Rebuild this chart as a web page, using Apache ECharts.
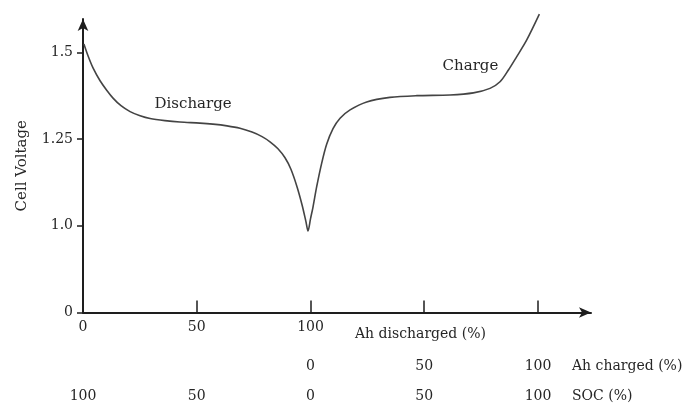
<!DOCTYPE html>
<html>
<head>
<meta charset="utf-8">
<script src="https://cdn.jsdelivr.net/npm/echarts@6/dist/echarts.min.js"></script>
<style>
html,body{margin:0;padding:0;background:#fff;}
#c{width:691px;height:406px;}
</style>
</head>
<body>
<div id="c"></div>
<script>
// Ah discharged (%) positions (0-100 discharge, 100-200 charge)
var ahPos = [0.4, 2.2, 4.4, 7.5, 10.5, 13.2, 16.7, 20.7, 25.1, 29.5, 36, 42.6, 51.4, 57.1, 63.3, 69, 74.3, 78.7, 82.2, 85.7, 88.8, 91.4, 94.1, 96.3, 98, 98.9,
             100, 101.1, 102.7, 104.9, 107.1, 109.9, 113, 117.4, 124.7, 134.9, 146.7, 161.3, 171.6, 178.9, 183.3, 187, 190.6, 195, 200.6];
var cellVoltage = [1.524, 1.490, 1.455, 1.418, 1.390, 1.368, 1.346, 1.329, 1.317, 1.309, 1.303, 1.299, 1.296, 1.293, 1.288, 1.281, 1.270, 1.257, 1.242, 1.222, 1.196, 1.163, 1.112, 1.060, 1.012, 0.985,
                   1.020, 1.054, 1.112, 1.180, 1.235, 1.280, 1.310, 1.334, 1.357, 1.370, 1.375, 1.377, 1.383, 1.396, 1.415, 1.449, 1.487, 1.535, 1.610];
var yTicks = [0.75, 1.0, 1.25, 1.5];
var yTickLabels = ['0', '1.0', '1.25', '1.5'];
var xTicks = [50, 100, 150, 200];
var dischargedTicks = [0, 50, 100];
var dischargedLabels = ['0', '50', '100'];
var chargedTicks = [100, 150, 200];
var chargedLabels = ['0', '50', '100'];
var socTicks = [0, 50, 100, 150, 200];
var socLabels = ['100', '50', '0', '50', '100'];
var annotations = [
  {name: 'Discharge', coord: [48.4, 1.351]},
  {name: 'Charge', coord: [170.3, 1.460]}
];

var FONT = 'DejaVu Serif';
var TXT = '#262626';
var AX = '#1e1e1e';

function lookup(vals, labels) {
  return function (v) {
    for (var i = 0; i < vals.length; i++) {
      if (Math.abs(vals[i] - v) < 1e-6) return labels[i];
    }
    return '';
  };
}

var data = ahPos.map(function (x, i) { return [x, cellVoltage[i]]; });

var chart = echarts.init(document.getElementById('c'), null, {renderer: 'canvas'});
var XMAX = 223.3;
var option = {
  animation: false,
  backgroundColor: '#fff',
  grid: {left: 83, right: 100, top: 19, bottom: 93.5, containLabel: false},
  xAxis: [
    {
      type: 'value', min: 0, max: XMAX, position: 'bottom',
      axisLine: {show: true, lineStyle: {color: AX, width: 2}, symbol: ['none', 'arrow'], symbolSize: [8, 12]},
      axisTick: {show: true, inside: true, length: 12, customValues: xTicks, lineStyle: {color: AX, width: 1.5}},
      axisLabel: {show: true, customValues: dischargedTicks, formatter: lookup(dischargedTicks, dischargedLabels), margin: 8, color: TXT, fontFamily: FONT, fontSize: 14},
      splitLine: {show: false}
    },
    {
      type: 'value', min: 0, max: XMAX, position: 'bottom', offset: 39,
      axisLine: {show: false}, axisTick: {show: false}, splitLine: {show: false},
      axisLabel: {show: true, customValues: chargedTicks, formatter: lookup(chargedTicks, chargedLabels), margin: 8, color: TXT, fontFamily: FONT, fontSize: 14}
    },
    {
      type: 'value', min: 0, max: XMAX, position: 'bottom', offset: 69,
      axisLine: {show: false}, axisTick: {show: false}, splitLine: {show: false},
      axisLabel: {show: true, customValues: socTicks, formatter: lookup(socTicks, socLabels), margin: 8, color: TXT, fontFamily: FONT, fontSize: 14}
    }
  ],
  yAxis: {
    type: 'value', min: 0.75, max: 1.596, interval: 0.25,
    name: 'Cell Voltage', nameLocation: 'middle', nameGap: 53, nameRotate: 90,
    nameTextStyle: {color: TXT, fontFamily: FONT, fontSize: 15},
    axisLine: {show: true, lineStyle: {color: AX, width: 2}, symbol: ['none', 'arrow'], symbolSize: [8, 12]},
    axisTick: {show: true, inside: false, length: 6, customValues: yTicks, lineStyle: {color: AX, width: 1.5}},
    axisLabel: {show: true, customValues: yTicks, formatter: lookup(yTicks, yTickLabels), margin: 10, color: TXT, fontFamily: FONT, fontSize: 14},
    splitLine: {show: false}
  },
  series: [{
    type: 'line', xAxisIndex: 0, data: data, smooth: 0.3, showSymbol: false, clip: false,
    lineStyle: {color: '#444', width: 1.6},
    markPoint: {
      symbol: 'circle', symbolSize: 0, silent: true,
      label: {show: true, position: 'inside', formatter: '{b}', color: TXT, fontFamily: FONT, fontSize: 15},
      data: annotations.map(function (a) { return {name: a.name, coord: a.coord}; })
    }
  }],
  graphic: [
    {type: 'text', left: 355, top: 327, style: {text: 'Ah discharged (%)', fill: TXT, font: '14px "DejaVu Serif"'}},
    {type: 'text', left: 572, top: 359, style: {text: 'Ah charged (%)', fill: TXT, font: '14px "DejaVu Serif"'}},
    {type: 'text', left: 572, top: 389, style: {text: 'SOC (%)', fill: TXT, font: '14px "DejaVu Serif"'}}
  ]
};
chart.setOption(option);
</script>
</body>
</html>
